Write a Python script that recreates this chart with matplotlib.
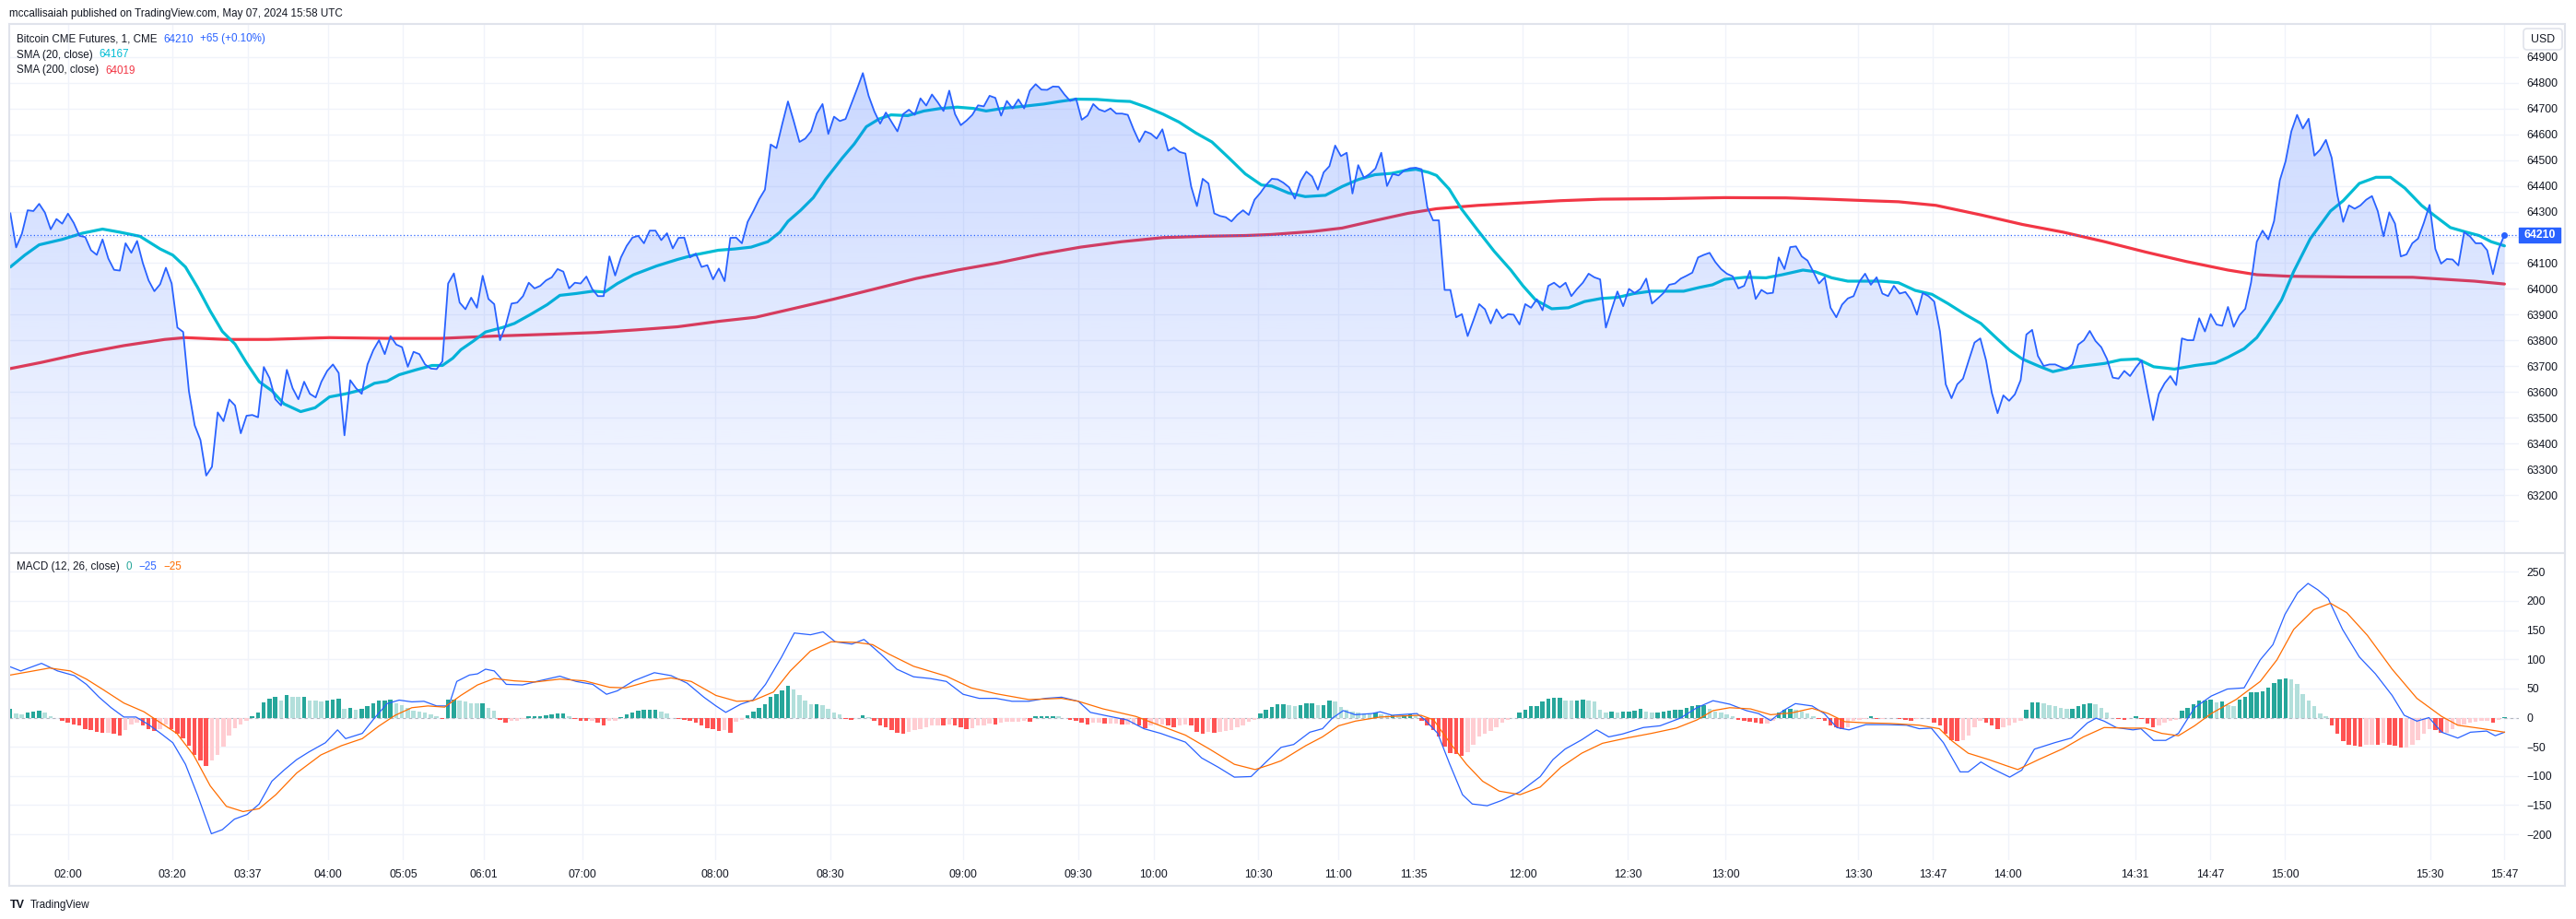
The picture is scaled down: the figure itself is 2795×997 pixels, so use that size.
import numpy as np
import matplotlib
matplotlib.use("Agg")
import matplotlib.pyplot as plt
from matplotlib.patches import FancyBboxPatch, Rectangle

plt.rcParams['font.family'] = ['Liberation Sans', 'DejaVu Sans']

# ---- data (one value per 1-minute bar) ----
price = [
    64293, 64161, 64214, 64305, 64302, 64330, 64296, 64231, 64271, 64253,
    64292, 64256, 64206, 64201, 64150, 64132, 64192, 64118, 64074, 64071,
    64177, 64140, 64186, 64100, 64033, 63991, 64018, 64082, 64021, 63850,
    63833, 63603, 63471, 63414, 63276, 63310, 63521, 63487, 63571, 63548,
    63440, 63508, 63511, 63502, 63697, 63654, 63572, 63548, 63686, 63615,
    63572, 63640, 63593, 63579, 63640, 63682, 63707, 63674, 63432, 63646,
    63615, 63593, 63707, 63762, 63801, 63747, 63817, 63784, 63774, 63698,
    63756, 63747, 63707, 63691, 63689, 63719, 64021, 64060, 63947, 63921,
    63966, 63927, 64051, 63961, 63941, 63801, 63859, 63943, 63947, 63972,
    64024, 64002, 64012, 64033, 64045, 64077, 64067, 64002, 64024, 64021,
    64048, 64000, 63972, 63972, 64126, 64052, 64122, 64167, 64199, 64206,
    64177, 64226, 64226, 64189, 64216, 64157, 64198, 64199, 64122, 64137,
    64085, 64092, 64037, 64079, 64030, 64198, 64199, 64177, 64260, 64302,
    64348, 64385, 64560, 64546, 64639, 64727, 64651, 64570, 64583, 64611,
    64680, 64717, 64601, 64668, 64651, 64659, 64717, 64776, 64837, 64749,
    64688, 64641, 64684, 64647, 64611, 64678, 64695, 64675, 64739, 64711,
    64754, 64724, 64690, 64769, 64678, 64635, 64653, 64675, 64712, 64708,
    64749, 64741, 64672, 64729, 64700, 64735, 64700, 64769, 64794, 64773,
    64772, 64785, 64784, 64754, 64729, 64739, 64656, 64672, 64717, 64696,
    64688, 64700, 64680, 64680, 64675, 64619, 64570, 64611, 64602, 64583,
    64619, 64536, 64548, 64531, 64525, 64397, 64321, 64427, 64409, 64293,
    64283, 64278, 64262, 64287, 64305, 64287, 64346, 64372, 64403, 64427,
    64425, 64412, 64394, 64350, 64418, 64455, 64436, 64385, 64452, 64476,
    64556, 64515, 64528, 64370, 64480, 64431, 64446, 64467, 64528, 64399,
    64446, 64440, 64460, 64468, 64470, 64464, 64317, 64266, 64266, 63996,
    63996, 63890, 63902, 63817, 63878, 63941, 63921, 63866, 63921, 63886,
    63902, 63900, 63862, 63941, 63927, 63960, 63917, 64012, 64024, 64006,
    64024, 63972, 64000, 64024, 64059, 64045, 64037, 63850, 63921, 63990,
    63933, 64000, 63984, 64000, 64040, 63943, 63963, 63984, 64016, 64021,
    64040, 64051, 64063, 64122, 64132, 64140, 64104, 64077, 64059, 64049,
    64002, 64012, 64070, 63961, 63996, 63982, 63985, 64122, 64077, 64162,
    64165, 64126, 64110, 64067, 64021, 64045, 63927, 63890, 63939, 63963,
    63972, 64028, 64059, 64016, 64045, 63982, 63972, 64012, 63982, 63988,
    63957, 63900, 63984, 63972, 63951, 63835, 63630, 63576, 63630, 63652,
    63723, 63792, 63808, 63723, 63597, 63518, 63587, 63566, 63591, 63646,
    63823, 63841, 63740, 63701, 63707, 63707, 63697, 63689, 63707, 63784,
    63801, 63837, 63798, 63774, 63728, 63656, 63652, 63682, 63662, 63695,
    63723, 63605, 63491, 63593, 63634, 63662, 63627, 63808, 63801, 63801,
    63886, 63835, 63902, 63862, 63857, 63930, 63853, 63898, 63923, 64024,
    64183, 64226, 64192, 64263, 64421, 64495, 64611, 64675, 64622, 64660,
    64517, 64540, 64578, 64509, 64363, 64260, 64324, 64311, 64324, 64346,
    64360, 64302, 64204, 64297, 64253, 64126, 64134, 64177, 64195, 64256,
    64326, 64155, 64098, 64116, 64114, 64091, 64220, 64204, 64177, 64177,
    64150, 64057, 64155, 64210,
]

sma20_x = [0, 2.5, 5, 9, 12.5, 16, 19, 22.5, 26, 28.2, 30.4, 32.5, 34.7, 36.8, 39, 41, 43.2, 45.4, 47.5, 50.4,
           52.9, 55.4, 58.2, 61.1, 63.2, 65.4, 67.5, 70.4, 73.2, 75, 76.8, 78.2, 80.4, 82.5, 85.4, 87.5, 90.4,
           93.2, 95.4, 98.2, 101.1, 103.2, 105.4, 108.2,
           112.2, 115.8, 118.6, 122.9, 125.8, 128.6, 131.5, 133.6, 135, 137.2, 139.4, 141.5, 144.4, 146.5, 148.6,
           150.8, 152.9, 155.8, 158.6, 161.5, 164.4, 167.2, 169.4, 172.2, 175.8, 179.4, 182.2, 185.1, 188.6,
           192.2, 194.4, 197.2, 200.1, 202.9, 205.8, 208.6, 211.5, 214.4, 217.2,
           219, 221.9, 224.8, 228.3, 231.2, 234, 236.9, 239.8, 241.9, 244, 246.2, 247.6, 249.8, 251.9, 254.8,
           257.6, 260.5, 262.6, 264.8, 267.6, 270.5, 273.3, 276.2, 279, 281.9, 284.8, 287.6, 290.5, 293.3, 295.5,
           297.6, 301.2, 304.8, 307.6, 311.2, 313.3, 316.2, 319, 321.9, 324.8,
           327.8, 330.7, 333.6, 336.4, 339.3, 342.1, 345, 347.1, 349.3, 352.1, 354.6, 357.8, 360.7, 363.6, 366.4,
           369.3, 372.1, 375.7, 379.3, 382.8, 385, 387.8, 390, 392.1, 394.3, 396.4, 399.3, 402.8, 405, 407.8,
           410.7, 413.2, 415.7, 418.6, 420.7, 423.6, 426.4, 428.6, 430.7, 433]
sma20 = [64085, 64131, 64171, 64192, 64216, 64232, 64220, 64204, 64155, 64131, 64085, 64006, 63914, 63835, 63786,
         63713, 63640, 63605, 63554, 63524, 63539, 63581, 63593, 63609, 63634, 63642, 63667, 63686, 63703, 63703,
         63731, 63764, 63798, 63833, 63850, 63866, 63902, 63939, 63975, 63982, 63991, 63988, 64021, 64055,
         64089, 64114, 64131, 64150, 64155, 64162, 64183, 64220, 64262, 64305, 64354, 64424, 64507, 64562, 64629,
         64659, 64675, 64672, 64690, 64700, 64705, 64700, 64690, 64700, 64708, 64717, 64727, 64736, 64735, 64729,
         64727, 64705, 64678, 64647, 64605, 64570, 64509, 64446, 64403,
         64399, 64372, 64358, 64363, 64397, 64424, 64443, 64448, 64458, 64464, 64452, 64440, 64387, 64311, 64226,
         64146, 64073, 64012, 63957, 63923, 63927, 63951, 63963, 63967, 63982, 63991, 63991, 63991, 64006, 64016,
         64037, 64045, 64043, 64055, 64073, 64067, 64043, 64030, 64030, 64030,
         64024, 63994, 63979, 63943, 63902, 63866, 63805, 63762, 63728, 63701, 63679, 63695, 63703, 63711, 63725,
         63728, 63698, 63689, 63703, 63713, 63735, 63768, 63811, 63878, 63957, 64067, 64195, 64302, 64342, 64409,
         64433, 64433, 64391, 64324, 64287, 64238, 64220, 64207, 64183, 64167]

sma200_x = [0, 5.4, 12.5, 19.7, 26.8, 30.4, 37.5, 44.7, 55.4, 66.1, 74.7, 84, 94.7, 101.8, 108.6, 115.8, 122.9,
            129.4, 135.8, 142.9, 150.1, 157.2, 164.4, 171.5, 178.6, 185.8, 192.9, 200.1, 207.2, 214.4, 219, 226.2,
            231.2, 236.9, 242.6, 247.6, 254.8, 261.9, 269, 276.2, 286.9, 297.6, 308.3, 315.5, 322.6, 327.8, 334.3,
            342.1, 349.3, 356.4, 363.6, 370.7, 377.8, 385, 390, 395.7, 406.4, 417.1, 427.8, 433]
sma200 = [63691, 63715, 63750, 63780, 63804, 63811, 63804, 63804, 63811, 63808, 63808, 63817, 63825, 63831, 63841,
          63853, 63874, 63890, 63923, 63960, 64000, 64040, 64073, 64101, 64134, 64162, 64183, 64199, 64204, 64207,
          64211, 64223, 64236, 64265, 64293, 64311, 64324, 64333, 64342, 64348, 64350, 64354, 64353, 64348, 64342,
          64338, 64324, 64287, 64250, 64220, 64183, 64143, 64106, 64073, 64055, 64049, 64046, 64045, 64030, 64019]

macd_x = [0, 1.8, 5.4, 8.2, 11.1, 13.2, 15.4, 17.5, 19.7, 21.8, 24, 26.1, 28.2, 30.4, 32.5, 34.9, 36.8, 38.9,
          41.1, 43.2, 45.4, 47.5, 49.7, 51.8, 54.7, 56.8, 58.2, 61.1, 63.2, 65.4, 67.5, 69.7, 71.8, 74, 76.1,
          77.5, 79.7, 81.1, 82.5, 84, 86.1, 88.9, 91.8, 95.4, 98.2, 101.1, 103.5, 105.4, 108.2, 111.8, 114.7,
          117.5, 120.4, 122.5, 124.2, 126.8, 128.9, 131.1, 133.9, 136.1, 138.9, 141.1, 143.2, 146.1, 148.2,
          151.1, 153.9, 156.8, 159.7, 162.5, 165.4, 168.2, 171.1, 173.9, 176.8, 179.7, 182.5, 185.4, 187.5,
          190.4, 193.9, 196.8, 199.7, 204, 206.8, 209.7, 212.5, 215.4, 218.2,
          220.6, 222.8, 225.6, 227.8, 229.5, 231.4, 233.5, 236.4, 237.8, 239.9, 244.2, 245.6, 247.8, 249.9,
          252.1, 253.8, 256.4, 258.9, 262.1, 265.6, 267.8, 269.9, 272.8, 275.4, 277.5, 279.9, 283.5, 286.4,
          289.9, 292.8, 295.6, 298.5, 301.4, 303.5, 305.6, 307.8, 309.9, 312.8, 314.9, 317.1, 319.2, 322.1,
          325.6, 329.2, 331.4, 333.5, 335.6, 338.5, 339.9, 342.1, 344.2, 347.1, 349.2, 351.4, 354.9, 357.8,
          360.6, 362.1, 363.5, 365.6, 368.5, 369.9, 372.1, 374.2, 376.4, 379.2, 382.1, 384.9, 387.8, 390.6,
          392.8, 394.9, 397.1, 398.9, 400.6, 402.4, 404.9, 407.8, 410.6, 413.5, 415.6, 417.8, 419.9, 422.1,
          424.9, 427.1, 429.9, 431.4, 433]
macd = [87, 80, 93, 80, 72, 57, 35, 17, 1, 1, -12, -27, -43, -80, -133, -199, -192, -174, -166, -148,
        -109, -90, -72, -59, -43, -21, -36, -27, -1, 24, 30, 27, 28, 20, 20, 62, 73, 75, 83, 80,
        57, 56, 63, 71, 62, 57, 40, 46, 63, 77, 72, 59, 35, 20, 9, 23, 30, 57, 104, 145,
        142, 147, 130, 126, 134, 109, 83, 70, 67, 62, 40, 33, 33, 28, 28, 33, 35, 28, 9, 3,
        -4, -19, -27, -42, -69, -85, -102, -101, -74,
        -51, -46, -25, -19, -1, 12, 5, 7, 10, 4, 7, -4, -27, -80, -132, -148, -151, -142, -127, -101,
        -72, -54, -38, -21, -33, -28, -17, -14, -1, 17, 29, 23, 12, 7, -5, 12, 24, 20, 7, -17,
        -21, -12, -12, -13, -19, -18, -43, -93, -93, -76, -88, -102, -90, -54, -43, -35, -9, -1, -6, -17,
        -21, -19, -39, -39, -27, 17, 37, 49, 51, 99, 125, 177, 214, 230, 219, 204, 151, 104, 75, 38,
        4, -6, 0, -25, -35, -25, -23, -31, -25]

signal_x = [0, 4, 6.8, 10.4, 13.2, 16.1, 19.7, 23.2, 26.1, 28.9, 31.8, 34.7, 37.5, 40.4, 43.2, 46.1, 49.7,
            53.9, 57.5, 61.1, 63.9, 66.8, 69.7, 72.5, 75.4, 78.2, 81.1, 84, 87.5, 91.1, 95.4, 99.7, 104, 106.8,
            111.1, 114.7, 118.2, 122.5, 126.1, 128.9, 132.5, 135.4, 138.9, 142.5, 146.8, 149.7, 152.5, 156.8,
            162.5, 166.8, 171.1, 176.8, 182.5, 185.4, 189.7, 195.4, 199.7, 204, 208.2, 212.5, 216.1, 218.9,
            220.6, 224.9, 227.8, 230.6, 233.5, 237.8, 242.1, 244.9, 247.1, 249.9, 252.8, 255.6, 258.5, 262.1,
            265.6, 269.2, 272.8, 276.4, 280.6, 284.9, 289.2, 292.8, 295.6, 298.5, 302.1, 305.6, 309.2, 312.8,
            315.6, 318.5, 322.1, 326.4, 331.4, 334.9, 337.1, 339.9, 343.5, 346.4, 348.5, 352.1, 356.4, 359.9,
            363.5, 367.8, 370.6, 373.5, 376.4, 379.2, 382.1, 386.4, 390.6, 393.5, 396.4, 399.9, 402.8, 405.6,
            409.2, 413.5, 417.8, 422.1, 424.9, 429.2, 433]
signal = [73, 80, 85, 80, 66, 48, 25, 10, -9, -27, -64, -117, -152, -161, -156, -132, -95, -64, -48, -36,
          -15, 4, 17, 20, 18, 38, 56, 67, 63, 61, 66, 63, 52, 51, 63, 68, 62, 38, 28, 29,
          44, 80, 114, 130, 129, 125, 109, 88, 71, 51, 41, 31, 33, 28, 15, 2, -14, -30, -54, -80, -89, -80,
          -74, -48, -33, -14, -6, 1, 3, 4, -4, -43, -80, -109, -126, -132, -119, -85, -61, -44, -35, -27,
          -18, -4, 12, 17, 15, 5, 8, 16, 7, -7, -9, -10, -13, -19, -40, -61, -72, -82, -89, -72,
          -53, -33, -17, -18, -18, -27, -31, -14, 7, 31, 62, 99, 151, 185, 196, 180, 141, 83, 33, 2,
          -13, -19, -25]

hist = [
    15, 7, 5, 9, 10, 12, 8, 3, -1, -5, -9, -12, -14, -19, -22, -25, -26, -26, -28, -30,
    -21, -12, -9, -14, -19, -23, -19, -12, -19, -27, -35, -48, -64, -74, -83, -73, -64, -49, -30, -18,
    -12, -5, 3, 9, 26, 33, 35, 30, 38, 36, 35, 36, 30, 29, 28, 30, 31, 32, 15, 16,
    14, 15, 20, 25, 30, 30, 31, 25, 21, 17, 12, 10, 9, 5, 2, -2, 31, 31, 29, 28,
    25, 24, 25, 17, 12, -4, -9, -6, -5, -3, 3, 3, 3, 4, 5, 7, 7, 3, -3, -5,
    -6, -6, -9, -14, -6, -5, 1, 5, 9, 12, 14, 14, 14, 10, 7, -1, -2, -4, -5, -9,
    -14, -18, -19, -23, -22, -26, -7, -4, 4, 10, 17, 23, 36, 41, 47, 54, 49, 38, 29, 23,
    23, 21, 15, 8, 5, -2, -4, -1, 4, 1, -5, -13, -17, -21, -26, -27, -25, -22, -19, -17,
    -14, -13, -14, -12, -14, -17, -19, -18, -14, -13, -10, -12, -9, -7, -7, -7, -5, -7, 2, 3,
    3, 3, 2, -1, -4, -5, -9, -12, -9, -9, -10, -10, -10, -12, -12, -12, -14, -18, -14, -12,
    -12, -13, -16, -14, -12, -14, -25, -27, -25, -26, -25, -23, -21, -17, -13, -7, -4, 7, 14, 18,
    23, 23, 22, 20, 21, 24, 24, 21, 21, 29, 28, 18, 13, 10, 8, 7, 6, 9, 5, 4,
    4, 3, 4, 5, 3, -6, -14, -21, -33, -49, -60, -62, -65, -59, -47, -33, -27, -23, -16, -9,
    -4, -1, 8, 14, 20, 20, 28, 32, 34, 34, 30, 29, 29, 31, 30, 28, 14, 8, 10, 8,
    10, 10, 12, 15, 10, 8, 9, 10, 12, 14, 14, 16, 19, 21, 21, 15, 10, 8, 5, 3,
    -4, -5, -7, -9, -10, -10, -6, 9, 14, 15, 14, 10, 7, 3, -2, -5, -13, -17, -19, -16,
    -6, -4, -2, 3, -2, -2, -1, -1, -2, -4, -5, -2, -1, -1, -9, -13, -27, -39, -40, -38,
    -30, -17, -6, -9, -14, -19, -17, -13, -9, -5, 14, 26, 26, 24, 21, 19, 17, 15, 15, 20,
    23, 25, 23, 17, 8, -1, -2, -4, -1, 3, -2, -10, -17, -13, -9, -5, -4, 12, 17, 23,
    29, 30, 31, 26, 28, 21, 20, 31, 36, 44, 44, 45, 52, 59, 65, 67, 66, 57, 41, 29,
    20, 7, 2, -14, -27, -40, -46, -48, -49, -47, -46, -47, -44, -46, -48, -51, -51, -46, -39, -28,
    -19, -22, -26, -26, -19, -14, -12, -9, -7, -5, -5, -9, -4, 1,
]

tick_pos = [10, 28.1, 41.2, 55.1, 68.2, 82.2, 99.3, 122.4, 142.4, 165.4, 185.4, 198.5, 216.6,
            230.6, 243.6, 262.6, 280.8, 297.8, 320.8, 333.8, 346.8, 368.9, 381.9, 394.9, 420.1, 433]
tick_lbl = ["02:00", "03:20", "03:37", "04:00", "05:05", "06:01", "07:00", "08:00", "08:30", "09:00",
            "09:30", "10:00", "10:30", "11:00", "11:35", "12:00", "12:30", "13:00", "13:30", "13:47",
            "14:00", "14:31", "14:47", "15:00", "15:30", "15:47"]
price_ticks = list(range(63200, 65000, 100))
macd_ticks = list(range(-200, 300, 50))

# ---- layout (pixel coords of the original screenshot) ----
W, H = 2795, 997
fig = plt.figure(figsize=(W / 100, H / 100), dpi=100)
fig.patch.set_facecolor("white")


def box(x, y, w, h):
    return [x / W, 1 - (y + h) / H, w / W, h / H]


GRID = "#f0f3fa"
TXT = "#131722"
FS = 8.8
LFS = 8.4
bars = np.arange(len(price))
XL = (-0.2, 435.5)

axp = fig.add_axes(box(10, 27, 2723, 572))
axm = fig.add_axes(box(10, 600, 2723, 333))

# price pane
ylo, yhi = 62979, 65024
axp.set_xlim(*XL)
axp.set_ylim(ylo, yhi)
axp.plot(sma200_x, sma200, color="#f23645", lw=2.3, zorder=2, solid_capstyle="round")
axp.plot(sma20_x, sma20, color="#00bcd4", lw=2.3, zorder=2, solid_capstyle="round")
poly = axp.fill_between(bars, price, ylo, color="none", lw=0)
grad = np.zeros((256, 1, 4))
grad[:, 0, 0] = 41 / 255
grad[:, 0, 1] = 98 / 255
grad[:, 0, 2] = 1.0
grad[:, 0, 3] = np.linspace(0.03, 0.26, 256)
im = axp.imshow(grad, origin="lower", aspect="auto", extent=[0, bars[-1], ylo, 64900], zorder=3)
im.set_clip_path(poly.get_paths()[0], axp.transData)
axp.plot(bars, price, color="#2962ff", lw=1.3, zorder=4)
axp.axhline(price[-1], color="#2962ff", lw=0.9, ls=(0, (1, 2)), zorder=4)
axp.plot([bars[-1]], [price[-1]], "o", color="#2962ff", ms=4, zorder=5)
for v in range(63100, 65000, 100):
    axp.axhline(v, color=GRID, lw=1, zorder=0)

# macd pane
axm.set_xlim(*XL)
axm.set_ylim(-244, 282)
cols = []
for i, v in enumerate(hist):
    p = hist[i - 1] if i > 0 else v
    if v >= 0:
        cols.append("#26a69a" if v >= p else "#b2dfdb")
    else:
        cols.append("#ff5252" if v < p else "#ffcdd2")
axm.bar(bars, hist, width=0.72, color=cols, zorder=2)
axm.axhline(0, color="#787b86", lw=0.8, ls=(0, (3, 3)), alpha=0.5, zorder=1)
axm.plot(macd_x, macd, color="#2962ff", lw=0.9, zorder=3)
axm.plot(signal_x, signal, color="#ff6d00", lw=0.9, zorder=3)
for v in macd_ticks:
    axm.axhline(v, color=GRID, lw=1, zorder=0)

for ax in (axp, axm):
    for t in tick_pos:
        ax.axvline(t, color=GRID, lw=1, zorder=0)
    for s in ax.spines.values():
        s.set_visible(False)
    ax.yaxis.tick_right()
    ax.tick_params(axis="y", length=0, pad=6, labelsize=FS, labelcolor=TXT)

axp.set_xticks([])
axp.set_yticks(price_ticks)
axp.set_yticklabels([str(v) for v in price_ticks])
axm.set_yticks(macd_ticks)
axm.set_yticklabels([str(v).replace("-", "\u2212") for v in macd_ticks])
axm.set_xticks(tick_pos)
axm.set_xticklabels(tick_lbl)
axm.tick_params(axis="x", length=0, pad=7, labelsize=FS, labelcolor=TXT)

# ---- overlay: frame, legends, labels ----
ov = fig.add_axes([0, 0, 1, 1])
ov.set_xlim(0, W)
ov.set_ylim(H, 0)
ov.axis("off")
ov.patch.set_alpha(0)
ov.add_patch(Rectangle((10, 26), 2773, 935, fill=False, ec="#e0e3eb", lw=1.5))
ov.plot([10, 2783], [599.5, 599.5], color="#e0e3eb", lw=1.5)

renderer = fig.canvas.get_renderer()


def legend_row(x, y, parts):
    # place each piece right after the previous one, with a small gap
    for s, c in parts:
        t = ov.text(x, y, s, fontsize=LFS, color=c, va="center")
        x += t.get_window_extent(renderer).width + 7


ov.text(10, 15, "mccallisaiah published on TradingView.com, May 07, 2024 15:58 UTC",
        fontsize=LFS, color=TXT, va="center")
legend_row(18, 42.5, [("Bitcoin CME Futures, 1, CME", TXT), ("64210", "#2962ff"),
                      ("+65 (+0.10%)", "#2962ff")])
legend_row(18, 59.5, [("SMA (20, close)", TXT), ("64167", "#00bcd4")])
legend_row(18, 76.5, [("SMA (200, close)", TXT), ("64019", "#f23645")])
legend_row(18, 614.5, [("MACD (12, 26, close)", TXT), ("0", "#26a69a"),
                       ("\u221225", "#2962ff"), ("\u221225", "#ff6d00")])

ov.add_patch(FancyBboxPatch((2738, 31), 42, 23, boxstyle="round,pad=0,rounding_size=4",
                            fc="white", ec="#e0e3eb", lw=1.2))
ov.text(2759, 43, "USD", fontsize=FS, color=TXT, ha="center", va="center")

ylast = 61.7 + (64900 - price[-1]) * 0.27976
ov.add_patch(Rectangle((2733, ylast - 8), 45, 16, color="#2962ff"))
ov.text(2755.5, ylast, str(price[-1]), fontsize=FS, color="white", fontweight="bold",
        ha="center", va="center")

ov.text(11, 982, "TV", fontsize=9, color=TXT, fontweight="bold", va="center")
ov.text(33, 982, "TradingView", fontsize=8.5, color=TXT, va="center")

fig.savefig("out.png", dpi=100, facecolor="white")
